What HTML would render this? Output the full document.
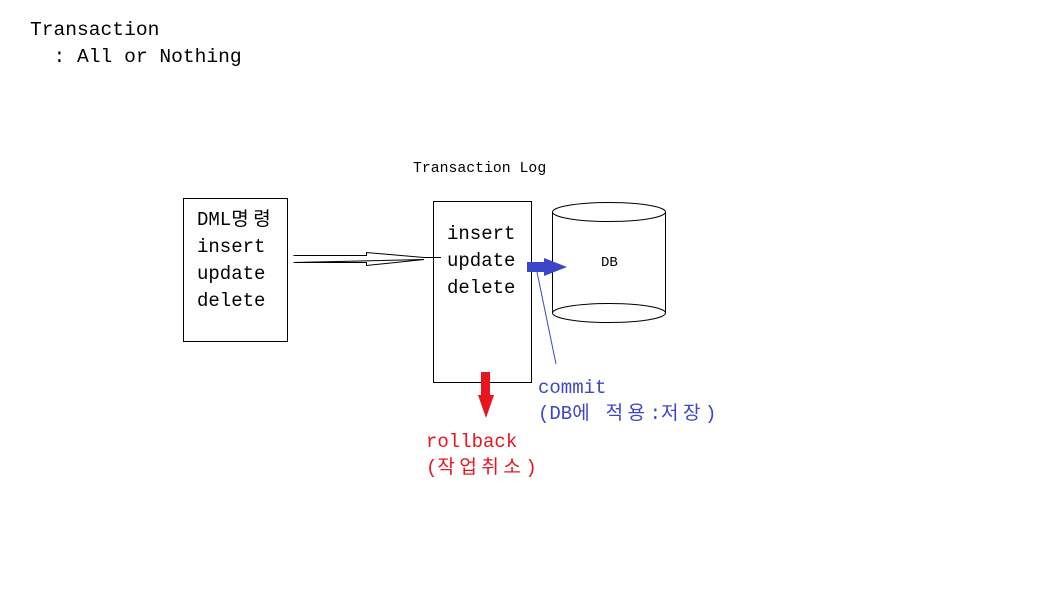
<!DOCTYPE html>
<html><head><meta charset="utf-8"><style>
body{margin:0;width:1054px;height:614px;background:#fff;position:relative;overflow:hidden}
.t{position:absolute;font-family:"Liberation Mono","Noto Sans CJK KR",monospace;white-space:pre;line-height:1}
.k{letter-spacing:4.5px}
</style></head><body>
<div class="t" style="left:30px;top:21px;font-size:19.6px">Transaction</div>
<div class="t" style="left:30px;top:48px;font-size:19.6px">  : All or Nothing</div>
<div class="t" style="left:413px;top:162px;font-size:14.8px">Transaction Log</div>
<svg width="1054" height="614" style="position:absolute;left:0;top:0">
<rect x="183.5" y="198.5" width="104" height="143" fill="none" stroke="#000"/>
<rect x="433.5" y="201.5" width="98" height="181" fill="none" stroke="#000"/>
<path d="M552.5 212 V313 M665.5 212 V313" stroke="#000" fill="none"/>
<ellipse cx="609" cy="212" rx="56.5" ry="9.5" fill="none" stroke="#000"/>
<path d="M552.5 313 A56.5 9.5 0 0 0 665.5 313 A56.5 9.5 0 0 0 552.5 313" fill="none" stroke="#000"/>
<path d="M293.5 255.5 H366.5 V252.5 L424 257.5 H441 M424 259.5 L366.5 265.5 V262.5 H293.5 Z" fill="#fff" stroke="#000"/>
<path d="M527 262 H544 V258 L567 267 L544 276 V272 H527 Z" fill="#3c46c8"/>
<line x1="537" y1="272" x2="556" y2="364" stroke="#3c46c8" stroke-width="1"/>
<path d="M481 372 H490 V395 H494 L486 418 L478 395 H481 Z" fill="#e8141e"/>
</svg>
<div class="t" style="left:197px;top:207px;font-size:19px;line-height:27px">DML<span class="k">명령</span>
insert
update
delete</div>
<div class="t" style="left:447px;top:221px;font-size:19px;line-height:27px">insert
update
delete</div>
<div class="t" style="left:601px;top:256px;font-size:14px">DB</div>
<div class="t" style="left:538px;top:375px;font-size:19px;line-height:26px;color:#3c46c8">commit
(DB<span class="k">에</span> <span class="k">적용</span>:<span class="k">저장</span>)</div>
<div class="t" style="left:426px;top:429px;font-size:19px;line-height:26px;color:#e8141e">rollback
(<span class="k">작업취소</span>)</div>
</body></html>
